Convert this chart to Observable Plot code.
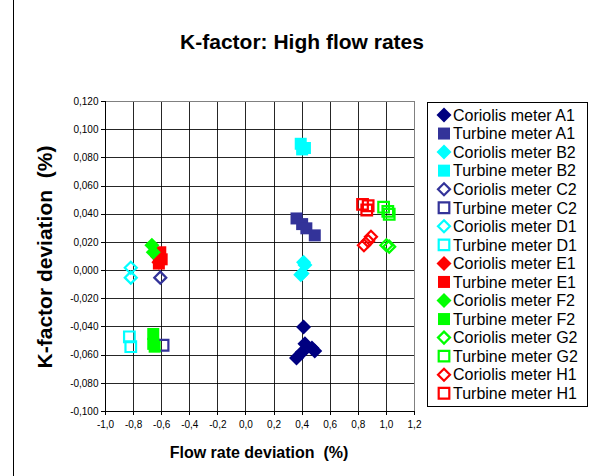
<!DOCTYPE html>
<html>
<head>
<meta charset="utf-8">
<script src="https://cdn.jsdelivr.net/npm/d3@7"></script>
<script src="https://cdn.jsdelivr.net/npm/@observablehq/plot@0.6"></script>
<style>
  html, body { margin: 0; padding: 0; background: #fff; }
  #chart { width: 591px; height: 476px; }
</style>
</head>
<body>
<div id="chart"></div>
<script>
// ---- Data ----
const title = "K-factor: High flow rates";
const xLabel = "Flow rate deviation  (%)";
const yLabel = "K-factor deviation  (%)";
const xTicks = [-1.0, -0.8, -0.6, -0.4, -0.2, 0.0, 0.2, 0.4, 0.6, 0.8, 1.0, 1.2];
const yTicks = [-0.100, -0.080, -0.060, -0.040, -0.020, 0.000, 0.020, 0.040, 0.060, 0.080, 0.100, 0.120];

const seriesNames = [
  "Coriolis meter A1", "Turbine meter A1", "Coriolis meter B2", "Turbine meter B2",
  "Coriolis meter C2", "Turbine meter C2", "Coriolis meter D1", "Turbine meter D1",
  "Coriolis meter E1", "Turbine meter E1", "Coriolis meter F2", "Turbine meter F2",
  "Coriolis meter G2", "Turbine meter G2", "Coriolis meter H1", "Turbine meter H1"
];
const seriesColors = [
  "#000080", "#333399", "#00FFFF", "#00FFFF",
  "#333399", "#333399", "#00FFFF", "#00FFFF",
  "#FF0000", "#FF0000", "#00FF00", "#00FF00",
  "#00FF00", "#00FF00", "#FF0000", "#FF0000"
];
const seriesShapes = [
  "diamond", "square", "diamond", "square",
  "openDiamond", "openSquare", "openDiamond", "openSquare",
  "diamond", "square", "diamond", "square",
  "openDiamond", "openSquare", "openDiamond", "openSquare"
];

// [flow rate deviation %, K-factor deviation %]
const coriolisA1 = [[0.41, -0.040], [0.42, -0.052], [0.47, -0.055], [0.49, -0.057], [0.40, -0.058], [0.36, -0.062]];
const turbineA1  = [[0.36, 0.037], [0.40, 0.033], [0.43, 0.030], [0.49, 0.025]];
const coriolisB2 = [[0.41, 0.006], [0.42, 0.004], [0.39, -0.003], [0.40, -0.002]];
const turbineB2  = [[0.39, 0.090], [0.42, 0.087], [0.40, 0.086]];
const coriolisC2 = [[-0.61, -0.005]];
const turbineC2  = [[-0.59, -0.053]];
const coriolisD1 = [[-0.82, 0.002], [-0.82, -0.005]];
const turbineD1  = [[-0.83, -0.047], [-0.82, -0.054]];
const coriolisE1 = [[-0.63, 0.010], [-0.62, 0.006]];
const turbineE1  = [[-0.61, 0.013], [-0.60, 0.008], [-0.62, 0.005]];
const coriolisF2 = [[-0.67, 0.018], [-0.66, 0.013]];
const turbineF2  = [[-0.66, -0.045], [-0.66, -0.052], [-0.65, -0.054]];
const coriolisG2 = [[1.00, 0.018], [1.02, 0.017]];
const turbineG2  = [[0.98, 0.045], [1.01, 0.042], [1.02, 0.040]];
const coriolisH1 = [[0.84, 0.018], [0.87, 0.021], [0.89, 0.024]];
const turbineH1  = [[0.83, 0.047], [0.87, 0.046], [0.86, 0.043]];

const seriesValues = [
  coriolisA1, turbineA1, coriolisB2, turbineB2,
  coriolisC2, turbineC2, coriolisD1, turbineD1,
  coriolisE1, turbineE1, coriolisF2, turbineF2,
  coriolisG2, turbineG2, coriolisH1, turbineH1
];

// ---- Symbols ----
const squareSym = {draw(ctx, size) { const h = Math.sqrt(size / Math.PI); ctx.moveTo(-h, -h); ctx.lineTo(h, -h); ctx.lineTo(h, h); ctx.lineTo(-h, h); ctx.closePath(); }};
const diamondSym = {draw(ctx, size) { const h = Math.sqrt(size / Math.PI); ctx.moveTo(0, -h); ctx.lineTo(h, 0); ctx.lineTo(0, h); ctx.lineTo(-h, 0); ctx.closePath(); }};
const shapeStyle = {
  diamond:     {symbol: diamondSym, r: 7.5, filled: true},
  square:      {symbol: squareSym,  r: 6,   filled: true},
  openDiamond: {symbol: diamondSym, r: 6,   filled: false},
  openSquare:  {symbol: squareSym,  r: 5.3, filled: false}
};

const fmtX = d => (d < 0 ? "-" : "") + Math.abs(d).toFixed(1).replace(".", ",");
const fmtY = d => (d < -1e-9 ? "-" : "") + Math.abs(d).toFixed(3).replace(".", ",");

const dotMarks = seriesValues.map((vals, i) => {
  const st = shapeStyle[seriesShapes[i]];
  const rows = vals.map(([x, y]) => ({x, y, series: seriesNames[i]}));
  return Plot.dot(rows, {
    x: "x", y: "y", symbol: () => st.symbol, r: st.r,
    fill: st.filled ? seriesColors[i] : "none",
    stroke: st.filled ? "none" : seriesColors[i],
    strokeWidth: st.filled ? 0 : 2.2
  });
});

const FONT = "Arial, 'Liberation Sans', Helvetica, sans-serif";

const chart = Plot.plot({
  width: 591, height: 476,
  marginLeft: 105, marginRight: 177, marginTop: 101, marginBottom: 65,
  style: {fontFamily: FONT, fontSize: "10px", color: "#000", background: "#fff"},
  x: {domain: [-1.0, 1.2], label: null},
  y: {domain: [-0.100, 0.120], label: null},
  marks: [
    Plot.gridX(xTicks, {stroke: "#000", strokeOpacity: 0.85}),
    Plot.gridY(yTicks, {stroke: "#000", strokeOpacity: 0.85}),
    Plot.frame({stroke: "#808080", strokeWidth: 1}),
    Plot.ruleX([-1.0], {stroke: "#000"}),
    Plot.ruleY([-0.100], {stroke: "#000"}),
    Plot.axisX(xTicks, {tickFormat: fmtX, tickSize: 4, tickPadding: 5, fontSize: 10, label: null}),
    Plot.axisY(yTicks, {tickFormat: fmtY, tickSize: 4, tickPadding: 3, fontSize: 10, label: null}),
    ...dotMarks
  ]
});

document.getElementById("chart").appendChild(chart);

// crisp grid and axis lines, like the reference
d3.select(chart).selectAll("g[aria-label='x-grid'] line, g[aria-label='y-grid'] line, g[aria-label='rule'] line, g[aria-label='frame'] rect, g[aria-label='x-axis tick'] path, g[aria-label='y-axis tick'] path")
  .attr("shape-rendering", "crispEdges");

// ---- Decorations: border, title, axis titles, legend ----
const svg = d3.select(chart);
svg.append("line")
  .attr("x1", 13.5).attr("x2", 13.5).attr("y1", 0).attr("y2", 476)
  .attr("stroke", "#000").attr("stroke-width", 1);

svg.append("text").text(title)
  .attr("x", 302).attr("y", 49).attr("text-anchor", "middle")
  .attr("font-family", FONT).attr("font-size", 21).attr("font-weight", "bold").attr("fill", "#000");

svg.append("text").text(xLabel)
  .attr("x", 259).attr("y", 458).attr("text-anchor", "middle")
  .attr("font-family", FONT).attr("font-size", 16).attr("font-weight", "bold").attr("fill", "#000")
  .style("white-space", "pre").attr("xml:space", "preserve");

svg.append("text").text(yLabel)
  .attr("transform", "translate(52,257) rotate(-90)").attr("text-anchor", "middle")
  .attr("font-family", FONT).attr("font-size", 21).attr("font-weight", "bold").attr("fill", "#000")
  .style("white-space", "pre").attr("xml:space", "preserve");

const lg = svg.append("g");
lg.append("rect").attr("x", 427.5).attr("y", 102.5).attr("width", 160).attr("height", 304)
  .attr("fill", "#fff").attr("stroke", "#000").attr("stroke-width", 1);
seriesNames.forEach((name, i) => {
  const cy = 115 + i * 18.55;
  const st = shapeStyle[seriesShapes[i]];
  const p = d3.path();
  st.symbol.draw(p, Math.PI * st.r * st.r);
  lg.append("path").attr("d", p.toString())
    .attr("transform", `translate(444,${cy})`)
    .attr("fill", st.filled ? seriesColors[i] : "none")
    .attr("stroke", st.filled ? "none" : seriesColors[i])
    .attr("stroke-width", st.filled ? 0 : 2.2);
  lg.append("text").text(name)
    .attr("x", 453).attr("y", cy).attr("dy", "0.36em").attr("text-anchor", "start")
    .attr("font-family", FONT).attr("font-size", 16).attr("fill", "#000");
});
</script>
</body>
</html>
